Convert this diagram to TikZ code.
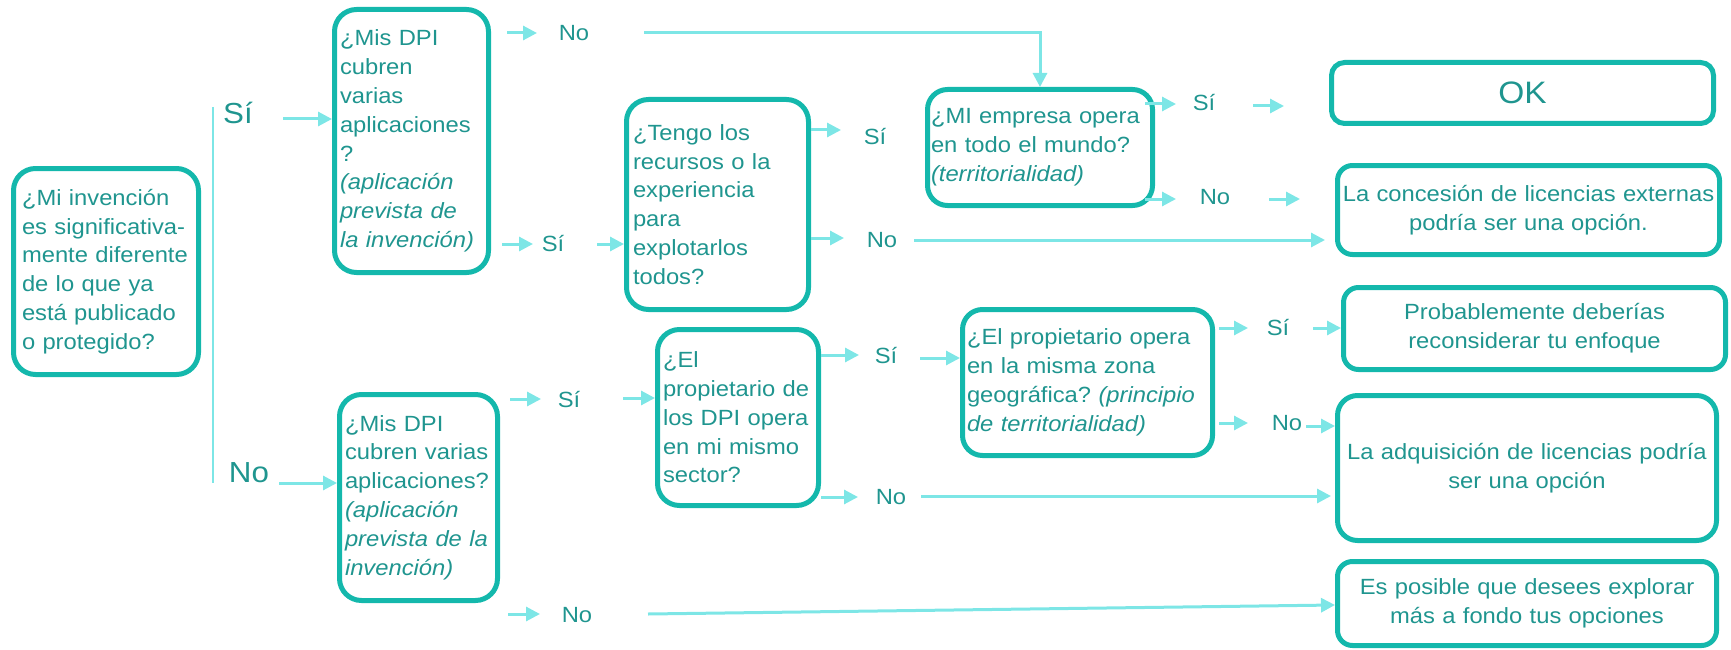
\documentclass[tikz,border=0pt]{standalone}
\usepackage{fontspec}
\setmainfont{Liberation Sans}[FakeStretch=1.08]
\usetikzlibrary{arrows.meta}
\definecolor{boxc}{HTML}{14B8AC}
\definecolor{txtc}{HTML}{1F958F}
\definecolor{arrc}{HTML}{7DE6E6}
\tikzset{
  qbox/.style={draw=boxc, line width=5pt, rounded corners=22pt, text=txtc,
    font=\fontsize{22}{28.8}\selectfont, align=left, inner ysep=0pt},
  rbox/.style={draw=boxc, line width=5pt, rounded corners=15pt, text=txtc,
    font=\fontsize{22}{29}\selectfont, align=center, inner xsep=4pt, inner ysep=0pt},
  lbl/.style={text=txtc, font=\fontsize{22}{26}\selectfont, inner sep=0pt},
  biglbl/.style={text=txtc, font=\fontsize{29}{32}\selectfont, inner sep=0pt},
  arr/.style={draw=arrc, line width=3pt, -{Triangle[length=14pt,width=14pt]}},
  conn/.style={draw=arrc, line width=2pt},
}
\begin{document}
\begin{tikzpicture}[x=1pt,y=-1pt]
\useasboundingbox (0,0) rectangle (1731,650);

% question boxes
\node[qbox, minimum width=185pt, minimum height=206pt, inner xsep=8.5pt, text width=168pt] (A) at (106,271.5)
 {¿Mi invención\\ es~significativa-\\ mente~diferente\\ de lo que ya\\ está~publicado\\ o protegido?};
\node[qbox, minimum width=154pt, minimum height=263pt, inner xsep=5.5pt, text width=143pt] (B) at (411.5,141)
 {¿Mis DPI\\ cubren\\ varias\\ aplicaciones\\ ?\\ \textit{(aplicación}\\ \textit{prevista~de}\\ \textit{la~invención)}};
\node[qbox, minimum width=182pt, minimum height=210pt, inner xsep=6.5pt, text width=169pt] (C) at (717.5,204.5)
 {¿Tengo los\\ recursos~o~la\\ experiencia\\ para\\ explotarlos\\ todos?};
\node[qbox, rounded corners=20pt, minimum width=225pt, minimum height=116pt, inner xsep=3.5pt, text width=218pt] (D) at (1040,147.5)
 {¿MI~empresa~opera\\ en~todo~el~mundo?\\ \textit{(territorialidad)}};
\node[qbox, minimum width=158pt, minimum height=206pt, inner xsep=5.5pt, text width=147pt] (G) at (418.5,497.5)
 {¿Mis DPI\\ cubren~varias\\ aplicaciones?\\ \textit{(aplicación}\\ \textit{prevista~de~la}\\ \textit{invención)}};
\node[qbox, minimum width=161pt, minimum height=176pt, inner xsep=5.5pt, text width=150pt] (H) at (738,417.5)
 {¿El\\ propietario~de\\ los~DPI~opera\\ en~mi~mismo\\ sector?};
\node[qbox, rounded corners=20pt, minimum width=250pt, minimum height=146pt, inner xsep=4.5pt, text width=241pt] (I) at (1087.5,382.5)
 {¿El~propietario~opera\\ en~la~misma~zona\\ geográfica?~\textit{(principio}\\ \textit{de~territorialidad)}};

% result boxes
\node[rbox, rounded corners=13pt, minimum width=382pt, minimum height=61pt, text width=374pt, font=\fontsize{31}{34}\selectfont] (E) at (1522.5,93) {OK};
\node[rbox, minimum width=382pt, minimum height=89pt, text width=374pt] (F) at (1528.5,210)
 {La~concesión~de~licencias~externas\\ podría ser una opción.};
\node[rbox, minimum width=382pt, minimum height=82pt, text width=374pt] (P) at (1534.5,328.5)
 {Probablemente deberías\\ reconsiderar tu enfoque};
\node[rbox, rounded corners=20pt, minimum width=379pt, minimum height=145pt, text width=371pt] (J) at (1527,468)
 {La~adquisición~de~licencias~podría\\ ser una opción};
\node[rbox, minimum width=379pt, minimum height=84pt, text width=371pt] (K) at (1527,603.5)
 {Es posible que desees explorar\\ más a fondo tus opciones};

% labels
\node[biglbl] (siA) at (238,113) {Sí};
\node[biglbl] (noA) at (249,473) {No};
\node[lbl] (noB) at (574,33) {No};
\node[lbl] (siB) at (553,244) {Sí};
\node[lbl] (siC) at (875,137) {Sí};
\node[lbl] (noC) at (882,240) {No};
\node[lbl] (siD) at (1204,103) {Sí};
\node[lbl] (noD) at (1215,197) {No};
\node[lbl] (siG) at (569,400) {Sí};
\node[lbl] (noG) at (577,615) {No};
\node[lbl] (siH) at (886,356) {Sí};
\node[lbl] (noH) at (891,497) {No};
\node[lbl] (siI) at (1278,328) {Sí};
\node[lbl] (noI) at (1287,423) {No};

% connector end points
\coordinate (vtop) at (213,107);
\coordinate (vbot) at (213,483);
\coordinate (a1) at (283,119);
\coordinate (a2) at (279,483);
\coordinate (b1s) at (507,33);   \coordinate (b1e) at (537,33);
\coordinate (b2s) at (644,33);
\coordinate (b3s) at (502,244);  \coordinate (b3e) at (533,244);
\coordinate (b4s) at (597,244);
\coordinate (c1e) at (841,130);
\coordinate (c2e) at (844,238);
\coordinate (c3s) at (914,240);
\coordinate (d1s) at (1145,104); \coordinate (d1e) at (1176,104);
\coordinate (d2s) at (1253,106); \coordinate (d2e) at (1284,106);
\coordinate (d3s) at (1145,199); \coordinate (d3e) at (1176,199);
\coordinate (d4s) at (1269,199); \coordinate (d4e) at (1300,199);
\coordinate (g1s) at (510,399);  \coordinate (g1e) at (541,399);
\coordinate (g2s) at (623,398);
\coordinate (g3s) at (508,614);  \coordinate (g3e) at (540,614);
\coordinate (g4s) at (648,614);  \coordinate (g4e) at (0,605);
\coordinate (h1e) at (859,355);
\coordinate (h2s) at (920,358);
\coordinate (h3e) at (858,497);
\coordinate (h4s) at (921,496);
\coordinate (i1s) at (1219,328); \coordinate (i1e) at (1248,328);
\coordinate (i2s) at (1313,328);
\coordinate (i3s) at (1219,423); \coordinate (i3e) at (1248,423);
\coordinate (i4s) at (1306,426);

% connectors
\draw[conn] (vtop) -- (vbot);
\draw[arr] (a1) -- (B.west |- a1);
\draw[arr] (a2) -- (G.west |- a2);
\draw[arr] (b1s) -- (b1e);
\draw[arr] (b2s) -- (b2s -| D.north) -- (D.north);
\draw[arr] (b3s) -- (b3e);
\draw[arr] (b4s) -- (C.west |- b4s);
\draw[arr] (C.east |- c1e) -- (c1e);
\draw[arr] (C.east |- c2e) -- (c2e);
\draw[arr, shorten >=10pt] (c3s) -- (F.west |- c3s);
\draw[arr] (d1s) -- (d1e);
\draw[arr] (d2s) -- (d2e);
\draw[arr] (d3s) -- (d3e);
\draw[arr] (d4s) -- (d4e);
\draw[arr] (g1s) -- (g1e);
\draw[arr] (g2s) -- (H.west |- g2s);
\draw[arr] (g3s) -- (g3e);
\draw[arr] (g4s) -- (K.west |- g4e);
\draw[arr] (H.east |- h1e) -- (h1e);
\draw[arr] (h2s) -- (I.west |- h2s);
\draw[arr] (H.east |- h3e) -- (h3e);
\draw[arr, shorten >=4pt] (h4s) -- (J.west |- h4s);
\draw[arr] (i1s) -- (i1e);
\draw[arr] (i2s) -- (P.west |- i2s);
\draw[arr] (i3s) -- (i3e);
\draw[arr] (i4s) -- (J.west |- i4s);
\end{tikzpicture}
\end{document}
